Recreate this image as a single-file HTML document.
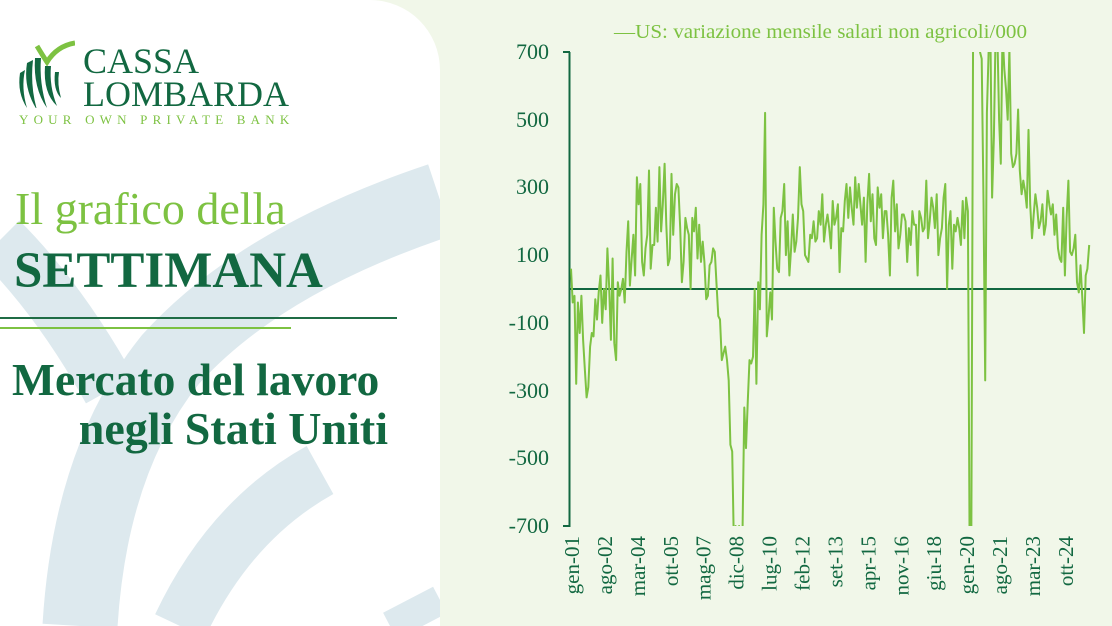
<!DOCTYPE html>
<html><head><meta charset="utf-8"><style>
html,body{margin:0;padding:0}
body{width:1112px;height:626px;position:relative;overflow:hidden;background:#f1f7e9;font-family:"Liberation Serif",serif}
#left{position:absolute;left:0;top:0;width:440px;height:626px;background:#fff;border-top-right-radius:70px;overflow:hidden}
.t{position:absolute;white-space:nowrap}
</style></head><body>
<div id="left">
<svg width="440" height="626" style="position:absolute;left:0;top:0">
<g fill="none" stroke="#dde9ee" stroke-linecap="butt">
<path d="M0 240 Q60 300 110 390" stroke-width="55"/>
<path d="M440 200 Q260 260 170 360 Q90 460 80 626" stroke-width="75"/>
<path d="M320 470 Q230 520 180 626" stroke-width="55"/>
<path d="M390 626 L440 600" stroke-width="30"/>
</g>
</svg>
<svg width="60" height="70" style="position:absolute;left:15px;top:38px">
<path d="M22 8 Q28 18 32 24 Q42 8 60 5" fill="none" stroke="#7dc242" stroke-width="5"/>
<g fill="#126841">
<path d="M5 35 Q2 55 12 70 Q6 50 10 32Z"/>
<path d="M12 25 Q8 50 22 72 Q15 48 18 22Z"/>
<path d="M20 20 Q18 50 32 70 Q24 45 26 20Z"/>
<path d="M30 28 Q28 55 42 68 Q34 48 36 28Z"/>
<path d="M40 34 Q38 52 46 60 Q42 46 44 34Z"/>
</g>
</svg>
<div class="t" style="left:83px;top:45px;font-size:36px;line-height:33px;color:#126841">CASSA</div>
<div class="t" style="left:83px;top:78px;font-size:36px;line-height:33px;color:#126841">LOMBARDA</div>
<div class="t" style="left:19px;top:113px;font-size:13px;line-height:13px;color:#7dc242;letter-spacing:5.2px">YOUR OWN PRIVATE BANK</div>
<div class="t" style="left:15px;top:186px;font-size:46px;line-height:46px;color:#7dc242">Il grafico della</div>
<div class="t" style="left:14px;top:246px;font-size:51px;line-height:51px;color:#126841;font-weight:bold">SETTIMANA</div>
<div style="position:absolute;left:0;top:317px;width:397px;height:2px;background:#1f6c45"></div>
<div style="position:absolute;left:0;top:327px;width:291px;height:2px;background:#7dc242"></div>
<div class="t" style="left:12px;top:357px;font-size:45.5px;line-height:46px;color:#126841;font-weight:bold">Mercato del lavoro</div>
<div class="t" style="right:52px;top:406px;font-size:46px;line-height:46px;color:#126841;font-weight:bold">negli Stati Uniti</div>
</div>
<svg width="1112" height="626" style="position:absolute;left:0;top:0" font-family="Liberation Serif, serif">
<defs><clipPath id="c"><rect x="569" y="52" width="540" height="474"/></clipPath></defs>
<text x="614" y="38" font-size="20" fill="#7dc242" textLength="413" lengthAdjust="spacingAndGlyphs">—US: variazione mensile salari non agricoli/000</text>
<g font-size="22" fill="#126841" text-anchor="end">
<text x="549" y="59">700</text><text x="549" y="127">500</text><text x="549" y="194">300</text><text x="549" y="262">100</text>
<text x="549" y="330">-100</text><text x="549" y="398">-300</text><text x="549" y="465">-500</text><text x="549" y="533">-700</text>
</g>
<line x1="569.5" y1="52" x2="569.5" y2="527" stroke="#126841" stroke-width="2"/>
<g stroke="#126841" stroke-width="2"><line x1="563" y1="52" x2="570" y2="52"/><line x1="563" y1="526" x2="570" y2="526"/></g>
<line x1="569" y1="289" x2="1090" y2="289" stroke="#126841" stroke-width="2"/>
<polyline id="pl" clip-path="url(#c)" fill="none" stroke="#7dc242" stroke-width="2" stroke-linejoin="round"/>
<g id="xl" font-size="21" fill="#126841"></g>
</svg>
<script>
var d=[60,-40,-20,-280,-40,-130,-20,-150,-240,-320,-290,-170,
-130,-140,-30,-90,-10,40,-100,0,-60,120,10,-150,
90,-160,-210,20,-20,0,30,-40,110,200,10,90,
160,40,330,250,310,80,40,120,160,350,60,130,
130,240,140,360,170,250,370,190,70,90,340,160,
280,310,300,180,20,80,210,180,160,0,210,170,
240,90,190,80,140,80,-30,-20,70,80,120,110,
10,-80,-90,-210,-190,-170,-210,-270,-460,-480,-800,-700,
-800,-700,-800,-700,-350,-470,-330,-210,-220,-200,0,-280,
20,-60,160,250,520,-140,-80,-10,-90,240,140,60,
50,210,230,310,100,200,40,120,220,110,140,210,
360,250,230,100,90,80,160,150,200,140,150,230,
190,280,140,190,220,180,120,260,190,210,250,50,
180,170,260,310,210,300,240,190,330,240,310,250,
190,270,80,250,340,200,280,150,130,300,240,280,
150,230,230,160,40,270,320,170,250,120,160,220,
220,200,80,180,130,230,190,190,40,230,210,170,
180,320,150,200,270,240,180,280,100,150,180,270,
310,0,190,230,60,190,170,210,180,130,260,150,
270,230,-1500,-20000,2700,4500,1700,1500,700,680,260,-270,
520,710,785,270,450,960,1100,500,370,800,650,590,
500,710,400,360,370,400,530,350,280,320,290,240,
470,250,150,220,280,240,180,200,250,160,190,290,
250,220,250,160,220,120,90,80,240,40,210,320,
110,100,120,160,20,-10,70,-20,-130,40,60,130];
var pts=[];for(var i=0;i<d.length;i++){var v=Math.max(-760,Math.min(760,d[i]));pts.push((571+i*1.733).toFixed(1)+","+(289-v*0.3386).toFixed(1));}
document.getElementById('pl').setAttribute('points',pts.join(' '));
var lab=["gen-01","ago-02","mar-04","ott-05","mag-07","dic-08","lug-10","feb-12","set-13","apr-15","nov-16","giu-18","gen-20","ago-21","mar-23","ott-24"];
var g=document.getElementById('xl'),s="";
for(var k=0;k<lab.length;k++){var x=579+k*1.733*19;s+='<text transform="translate('+x.toFixed(1)+',536) rotate(-90)" text-anchor="end">'+lab[k]+'</text>';}
g.innerHTML=s;
</script>
</body></html>
